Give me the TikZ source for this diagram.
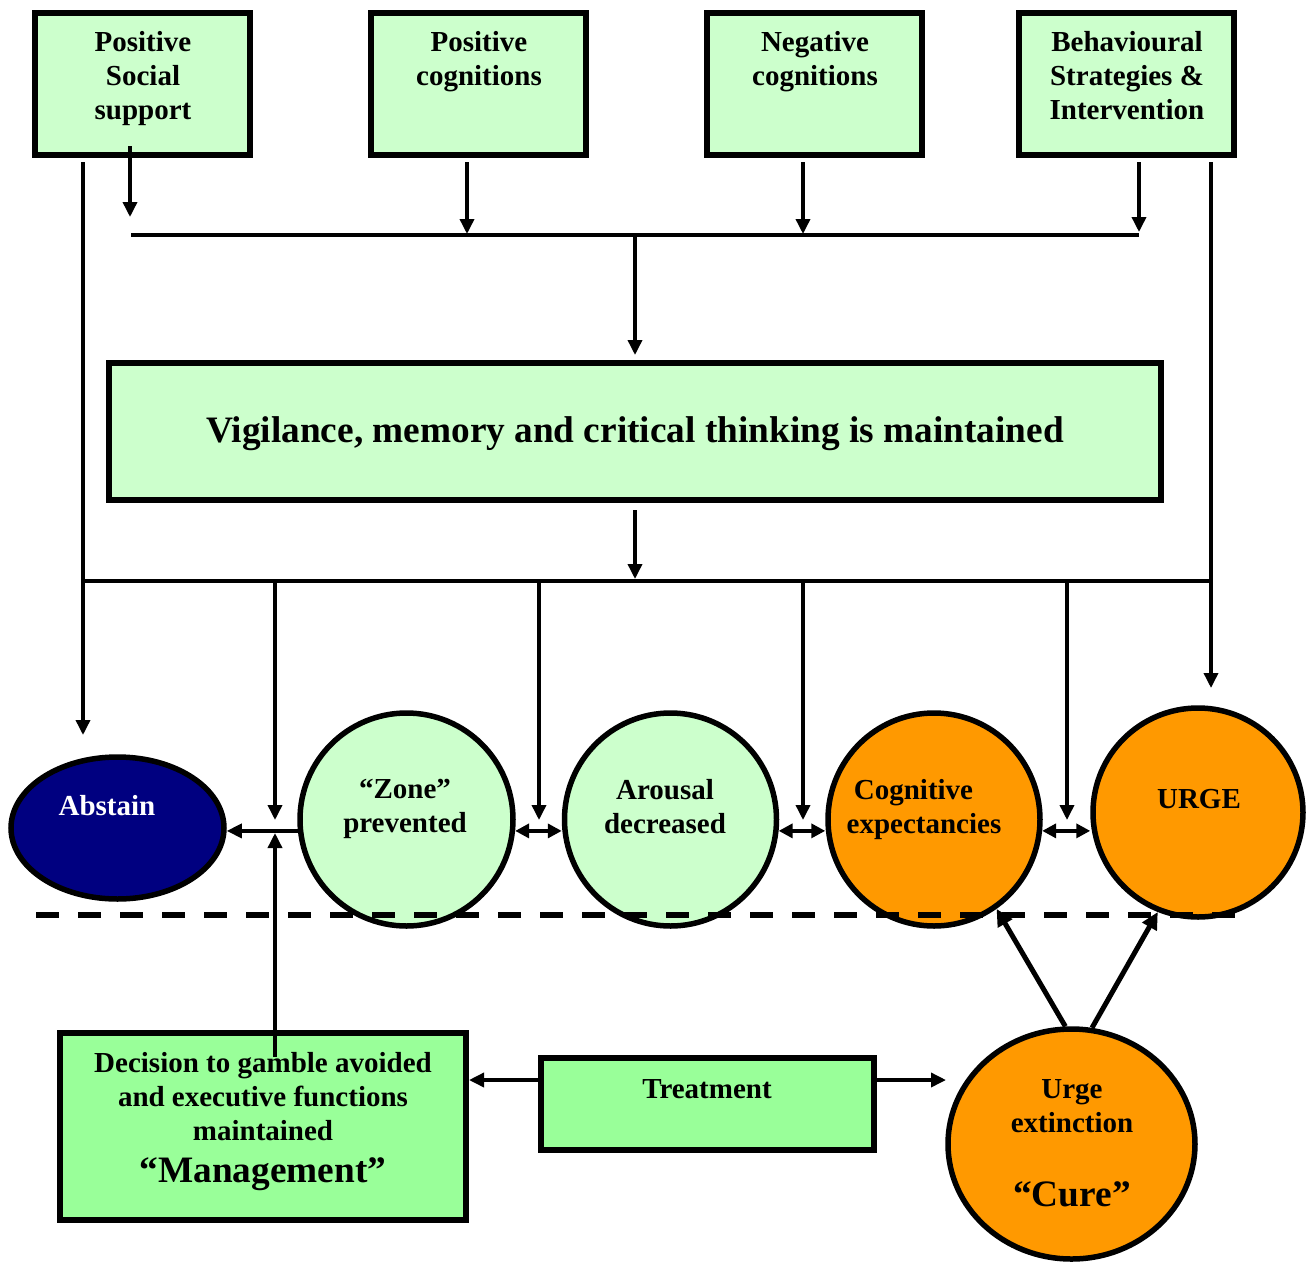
\documentclass[tikz,border=0pt]{standalone}
\usepackage{fontspec}
\setmainfont{Liberation Serif}
\usetikzlibrary{arrows.meta,shapes.geometric}
\definecolor{paleGreen}{HTML}{CCFFCC}
\definecolor{brightGreen}{HTML}{99FF99}
\definecolor{amber}{HTML}{FF9900}
\definecolor{deepNavy}{HTML}{000080}

\begin{document}
\begin{tikzpicture}[x=1pt,y=-1pt,
  panel/.style={draw=black,line width=6pt,inner sep=0pt,fill=paleGreen},
  oval/.style={ellipse,draw=black,line width=5.5pt,inner sep=0pt},
  txt/.style={font=\fontsize{29}{34}\selectfont\bfseries,align=center,inner sep=0pt},
  bigtxt/.style={font=\fontsize{37.3}{44}\selectfont\bfseries,inner sep=0pt},
  wire/.style={line width=3.5pt},
  arr/.style={wire,-{Triangle[length=15pt,width=14pt]}},
  dbl/.style={wire,{Triangle[length=14pt,width=14pt]}-{Triangle[length=14pt,width=14pt]}},
  heavy/.style={line width=5pt,-{Triangle[length=17pt,width=16pt]}}]

\fill[white] (0,0) rectangle (1307,1264);
\useasboundingbox (0,0) rectangle (1307,1264);

% influence boxes along the top
\node[panel,minimum width=215pt,minimum height=142pt] (b1) at (142.5,84) {};
\node[panel,minimum width=215pt,minimum height=142pt] (b2) at (478.5,84) {};
\node[panel,minimum width=215pt,minimum height=142pt] (b3) at (814.5,84) {};
\node[panel,minimum width=215pt,minimum height=142pt] (b4) at (1126.5,84) {};
\node[txt,anchor=north] (t1) at (143,31.5) {Positive\\Social\\support};
\node[txt,anchor=north] (t2) at (479,31.5) {Positive\\cognitions};
\node[txt,anchor=north] (t3) at (815,31.5) {Negative\\cognitions};
\node[txt,anchor=north] (t4) at (1127,31.5) {Behavioural\\Strategies \&\\Intervention};

% central box
\node[panel,minimum width=1052pt,minimum height=137pt] (vig) at (635,431.5) {};
\node[bigtxt,anchor=base] (vigtxt) at (635,442) {Vigilance, memory and critical thinking is maintained};

% states
\node[oval,fill=deepNavy,minimum width=213pt,minimum height=142pt] (abstain) at (117.5,828) {};
\node[oval,fill=paleGreen,minimum width=213pt,minimum height=213pt] (zone) at (406.5,819.5) {};
\node[oval,fill=paleGreen,minimum width=212pt,minimum height=213pt] (arousal) at (670.5,819.5) {};
\node[oval,fill=amber,minimum width=212pt,minimum height=213pt] (cog) at (934,819.5) {};
\node[oval,fill=amber,minimum width=210pt,minimum height=209pt] (urge) at (1198,812.5) {};
\node[txt,anchor=base,text=white] (abstaintxt) at (107,815) {Abstain};
\node[txt,anchor=north] (zonetxt) at (405,779) {“Zone”\\prevented};
\node[txt,anchor=north] (arousaltxt) at (665,779) {Arousal\\decreased};
\node[txt,anchor=north] (cogtxt) at (924,779) {Cognitive\hspace*{21pt}\\expectancies};
\node[txt,anchor=base] (urgetxt) at (1199,808) {URGE};

% lower outcomes
\node[panel,fill=brightGreen,minimum width=406pt,minimum height=187pt] (dec) at (263,1126.5) {};
\node[txt,anchor=north] (dectxt) at (263,1052) {Decision to gamble avoided\\and executive functions\\maintained};
\node[bigtxt,anchor=base] (mgmt) at (263,1182) {“Management”};
\node[panel,fill=brightGreen,minimum width=333pt,minimum height=92pt] (treat) at (707.5,1104) {};
\node[txt,anchor=base] (treattxt) at (707,1098) {Treatment};
\node[oval,fill=amber,minimum width=247pt,minimum height=230pt] (urgeext) at (1071.5,1144) {};
\node[txt,anchor=north] (urgeexttxt) at (1072,1079) {Urge\\extinction};
\node[bigtxt,anchor=base] (cure) at (1072,1206) {“Cure”};

% dividing line
\coordinate (dashL) at (36,915);
\coordinate (dashR) at (1236,915);
\draw[line width=6pt,dash pattern=on 23pt off 19pt] (dashL) -- (dashR);

% collecting lines
\coordinate (busTopL) at (131,235);
\coordinate (busTopR) at (1139,235);
\coordinate (hub) at (635,235);
\coordinate (busLowL) at (83,581);
\coordinate (busLowR) at (1211,581);
\coordinate (busLowMid) at (635,579);
\coordinate (ssTail) at (130,146);
\coordinate (ssTip) at (130,217);
\coordinate (c2) at (467,234);
\coordinate (c3) at (803,234);
\coordinate (c4) at (1139,232);
\coordinate (abstainIn) at (83,735);
\coordinate (urgeIn) at (1211,688);

\draw[arr] (ssTail) -- (ssTip);
\draw[arr,shorten <=4pt] (b2.south -| c2) -- (c2);
\draw[arr,shorten <=4pt] (b3.south -| c3) -- (c3);
\draw[arr,shorten <=4pt] (b4.south -| c4) -- (c4);
\draw[wire] (busTopL) -- (busTopR);
\draw[arr,shorten >=5pt] (hub) -- (vig);
\draw[arr,shorten <=7pt] (vig) -- (busLowMid);

\draw[arr,shorten <=4pt] (b1.south -| busLowL) -- (abstainIn);
\draw[arr,shorten <=4pt] (b4.south -| busLowR) -- (urgeIn);
\draw[wire] (busLowL) -- (busLowR);

% drops into the chain of states
\foreach \x/\n in {275/d1,539/d2,803/d3,1067/d4}{
  \coordinate (\n) at (\x,820);
  \draw[arr] (\n |- busLowL) -- (\n);
}

% links between states
\draw[arr] (zone.186) -- (zone.186 -| abstain.east);
\draw[dbl] (zone.-6) -- (zone.-6 -| arousal.west);
\draw[dbl] (arousal.-6) -- (arousal.-6 -| cog.west);
\draw[dbl] (cog.-6) -- (cog.-6 -| urge.west);

% management feeds back up to the abstain link
\coordinate (decTail) at (275,1057);
\coordinate (upTip) at (275,833);
\draw[arr] (decTail) -- (upTip);

% treatment outcomes
\coordinate (tlev) at (0,1080);
\coordinate (cureTip) at (946,1080);
\draw[arr] (treat.west |- tlev) -- (dec.east |- tlev);
\draw[arr] (treat.east |- tlev) -- (cureTip);

% extinction acts on expectancies and urge
\draw[heavy] (urgeext.93) -- (cog.-55);
\draw[heavy] (urgeext.80) -- (urge.-112);
\end{tikzpicture}
\end{document}
